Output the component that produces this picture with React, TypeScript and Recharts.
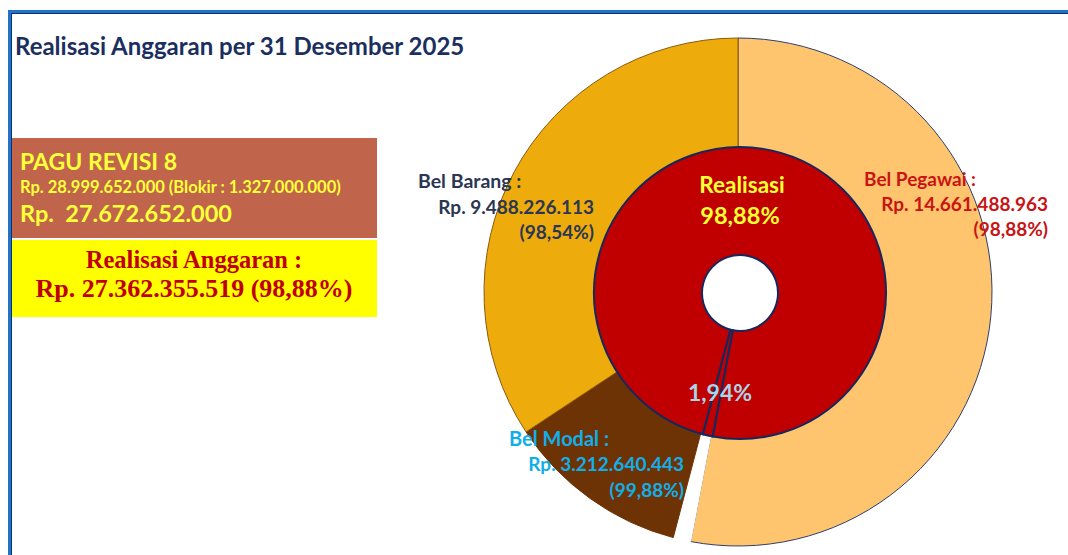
import React from "react";
import { Cell, Pie, PieChart } from "recharts";

// realisasi per jenis belanja (Rp)
const jenisBelanja = ["Bel Pegawai", "Sisa", "Bel Modal", "Bel Barang"];
const realisasiJenis = [14661488963, 310296481, 3212640443, 9488226113];
const warnaJenis = ["#FFC46E", "#FFFFFF", "#6E3305", "#EDAB0C"];
const garisJenis = ["#2E3F6E", "#FFFFFF", "#6E3305", "#8A5A12"];

// cincin dalam: sisa pagu vs realisasi
const cincinDalam = ["Sisa", "Realisasi"];
const nilaiDalam = [310296481, 27362355519];

const outerData = jenisBelanja.map((name, i) => ({ name, value: realisasiJenis[i] }));
const innerData = cincinDalam.map((name, i) => ({ name, value: nilaiDalam[i] }));

const total = realisasiJenis.reduce((a, b) => a + b, 0);
const innerStart = 90 - (realisasiJenis[0] / total) * 360;

const sans = "Lato, 'Open Sans', sans-serif";
const serif = "'Liberation Serif', serif";

function Txt({ x, y, size, color, children, align = "left", family = sans }: any) {
  const style: React.CSSProperties = {
    position: "absolute",
    top: y,
    fontFamily: family,
    fontWeight: 700,
    fontSize: size,
    color,
    whiteSpace: "nowrap",
    lineHeight: 1,
  };
  if (align === "right") style.right = 1068 - x;
  else if (align === "center") {
    style.left = x;
    style.transform = "translateX(-50%)";
  } else style.left = x;
  return <div style={style}>{children}</div>;
}

export default function App() {
  return (
    <div style={{ position: "absolute", left: 0, top: 0, width: 1068, height: 555, background: "#fff", overflow: "hidden" }}>
      <div style={{ position: "absolute", left: 8, top: 10, width: 1068, height: 560, borderTop: "3px solid #1F74C8", borderLeft: "3px solid #1F74C8" }} />
      <div style={{ position: "absolute", left: 11, top: 13, width: 1068, height: 560, borderTop: "1px solid #14306A", borderLeft: "1px solid #14306A" }} />

      <PieChart
        width={1068}
        height={555}
        margin={{ top: 0, right: 0, bottom: 0, left: 0 }}
        style={{ position: "absolute", left: 0, top: 0 }}
      >
        <Pie
          data={outerData}
          dataKey="value"
          cx={738}
          cy={292}
          innerRadius={100}
          outerRadius={254}
          startAngle={90}
          endAngle={-270}
          isAnimationActive={false}
        >
          {outerData.map((d, i) => (
            <Cell key={d.name} fill={warnaJenis[i]} stroke={garisJenis[i]} strokeWidth={1} />
          ))}
        </Pie>
        <Pie
          data={innerData}
          dataKey="value"
          cx={740}
          cy={293}
          innerRadius={38}
          outerRadius={146}
          startAngle={innerStart}
          endAngle={innerStart - 360}
          isAnimationActive={false}
        >
          {innerData.map((d) => (
            <Cell key={d.name} fill="#C00000" stroke="#14285E" strokeWidth={2} />
          ))}
        </Pie>
      </PieChart>

      <Txt x={15} y={34} size={24} color="#1B2F5E">Realisasi Anggaran per 31 Desember 2025</Txt>

      <div style={{ position: "absolute", left: 12, top: 138, width: 365, height: 100, background: "#C0654B" }} />
      <div style={{ position: "absolute", left: 12, top: 240, width: 365, height: 77, background: "#FFFF00" }} />
      <Txt x={20} y={150} size={23} color="#FFFF3A">PAGU REVISI 8</Txt>
      <Txt x={20} y={179} size={16.5} color="#FFFF3A">Rp. 28.999.652.000 (Blokir : 1.327.000.000)</Txt>
      <Txt x={20} y={202} size={23.5} color="#FFFF3A">Rp.&nbsp; 27.672.652.000</Txt>
      <Txt x={194} y={248} size={24.5} color="#C00000" align="center" family={serif}>Realisasi Anggaran :</Txt>
      <Txt x={194} y={276} size={26} color="#C00000" align="center" family={serif}>Rp. 27.362.355.519 (98,88%)</Txt>

      <Txt x={418} y={171} size={19.5} color="#2B3654">Bel Barang :</Txt>
      <Txt x={594} y={197} size={19} color="#2B3654" align="right">Rp. 9.488.226.113</Txt>
      <Txt x={594} y={222} size={19} color="#2B3654" align="right">(98,54%)</Txt>

      <Txt x={864} y={169} size={19} color="#C81414">Bel Pegawai :</Txt>
      <Txt x={1048} y={194} size={19} color="#C81414" align="right">Rp. 14.661.488.963</Txt>
      <Txt x={1048} y={219} size={19} color="#C81414" align="right">(98,88%)</Txt>

      <Txt x={509} y={428} size={20} color="#10AEEA">Bel Modal :</Txt>
      <Txt x={684} y={454} size={19} color="#10AEEA" align="right">Rp. 3.212.640.443</Txt>
      <Txt x={684} y={480} size={19} color="#10AEEA" align="right">(99,88%)</Txt>

      <Txt x={742} y={174} size={22.5} color="#FFFF33" align="center">Realisasi</Txt>
      <Txt x={740} y={204} size={23.5} color="#FFFF33" align="center">98,88%</Txt>
      <Txt x={720} y={381} size={23} color="#A9D5E8" align="center">1,94%</Txt>
    </div>
  );
}
